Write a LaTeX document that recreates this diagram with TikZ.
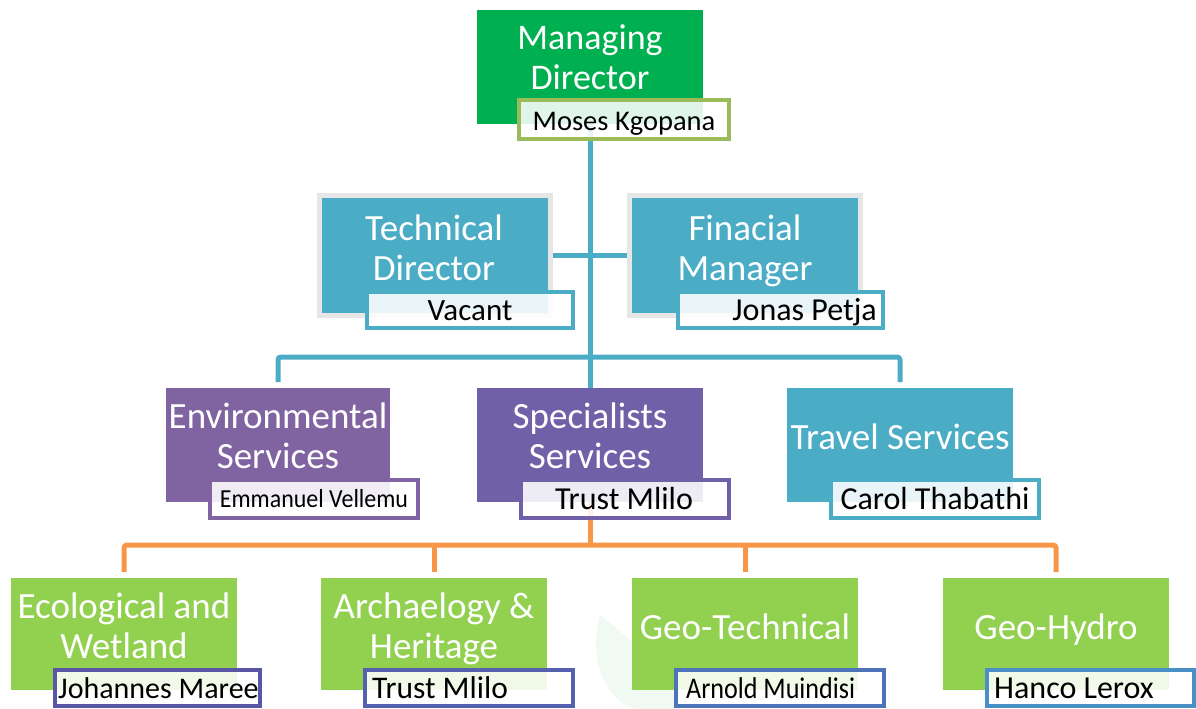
\documentclass[tikz,border=0pt]{standalone}
\usepackage{fontspec}
\setmainfont{Carlito}
\usetikzlibrary{backgrounds}
\definecolor{mdgreen}{HTML}{00B050}
\definecolor{olive}{HTML}{9BBB59}
\definecolor{cblue}{HTML}{4BACC6}
\definecolor{gframe}{HTML}{E6E6E6}
\definecolor{envpur}{HTML}{8064A2}
\definecolor{spspur}{HTML}{7060A8}
\definecolor{lgreen}{HTML}{92D050}
\definecolor{corange}{HTML}{F79646}
\definecolor{nbA}{HTML}{5A56A6}
\definecolor{nbB}{HTML}{5560AE}
\definecolor{nbC}{HTML}{4F73B8}
\definecolor{nbD}{HTML}{4A90C6}
\definecolor{leaf}{HTML}{F0FAF2}
\newcommand{\fsz}[1]{\fontsize{#1}{#1}\selectfont}
\begin{document}
\begin{tikzpicture}[x=1pt,y=-1pt,
  box/.style={anchor=north west, inner sep=0pt, outer sep=0pt, minimum width=226pt, minimum height=114pt},
  title/.style={text=white, font=\fontsize{37}{40}\selectfont, align=center, anchor=base, inner sep=0pt},
  namebox/.style={anchor=north west, fill=white, fill opacity=0.88, line width=4pt, inner sep=0pt, outer sep=0pt, minimum height=36pt},
  nametxt/.style={text=black, anchor=base, inner sep=0pt},
  bline/.style={draw=cblue, line width=5pt},
  oline/.style={draw=corange, line width=5pt, rounded corners=3pt}]
\useasboundingbox (0,0) rectangle (1196,709);
% faint leaf watermark
\fill[leaf] (600,615) .. controls (588,660) and (605,700) .. (635,709) -- (680,709) .. controls (670,680) and (640,645) .. (600,615) -- cycle;
% Managing Director
\node[box, fill=mdgreen] (md) at (477,10) {};
\node[title, font=\fontsize{36}{40}\selectfont] (mdt) at (590,89) {Managing\\Director};
\node[namebox, draw=olive, minimum width=210pt, minimum height=39pt] (mdn) at (519,100) {};
\node[nametxt, font=\fsz{28.5}] (mdnt) at (624,130) {Moses Kgopana};
% Technical Director
\node[box, fill=cblue, draw=gframe, line width=5pt, minimum width=231pt, minimum height=120pt] (td) at (319.5,195.5) {};
\node[title] (tdt) at (434,280) {Technical\\Director};
\node[namebox, draw=cblue, minimum width=206pt] (tdn) at (367,292) {};
\node[nametxt, font=\fsz{31}] (tdnt) at (470,320) {Vacant};
% Finacial Manager
\node[box, fill=cblue, draw=gframe, line width=5pt, minimum width=231pt, minimum height=120pt] (fm) at (629.5,195.5) {};
\node[title] (fmt) at (745,280) {Finacial\\Manager};
\node[namebox, draw=cblue, minimum width=205pt] (fmn) at (678,292) {};
\node[nametxt, anchor=base east, font=\fsz{32}] (fmnt) at (877,320) {Jonas Petja};
% Environmental Services
\node[box, fill=envpur, minimum width=224pt] (env) at (166,388) {};
\node[title] (envt) at (278,468) {Environmental\\Services};
\node[namebox, draw=envpur, minimum width=208pt, minimum height=38pt] (envn) at (210,480) {};
\node[nametxt, font=\fsz{26}] (envnt) at (314,507) {\scalebox{0.92}[1]{Emmanuel Vellemu}};
% Specialists Services
\node[box, fill=spspur] (sps) at (477,388) {};
\node[title] (spst) at (590,468) {Specialists\\Services};
\node[namebox, draw=spspur, minimum width=208pt, minimum height=38pt] (spsn) at (521,480) {};
\node[nametxt, font=\fsz{32}] (spsnt) at (624,509) {Trust Mlilo};
% Travel Services
\node[box, fill=cblue] (trv) at (787,388) {};
\node[title] (trvt) at (900,449) {Travel Services};
\node[namebox, draw=cblue, minimum width=208pt, minimum height=38pt] (trvn) at (831,480) {};
\node[nametxt, font=\fsz{32}] (trvnt) at (935,509) {Carol Thabathi};
% Bottom row
\node[box, fill=lgreen, minimum height=112pt] (eco) at (11,578) {};
\node[title] (ecot) at (124,658) {Ecological and\\Wetland};
\node[namebox, draw=nbA, minimum width=205pt] (econ) at (55,670) {};
\node[nametxt, anchor=base west, font=\fsz{30}] (econt) at (58,698) {Johannes Maree};
\node[box, fill=lgreen, minimum height=112pt] (arc) at (321,578) {};
\node[title] (arct) at (434,658) {Archaelogy \&\\Heritage};
\node[namebox, draw=nbB, minimum width=208pt] (arcn) at (365,670) {};
\node[nametxt, anchor=base west, font=\fsz{31.5}] (arcnt) at (372,698) {Trust Mlilo};
\node[box, fill=lgreen, minimum height=112pt] (geo) at (632,578) {};
\node[title] (geot) at (745,639) {Geo-Technical};
\node[namebox, draw=nbC, minimum width=208pt] (geon) at (676,670) {};
\node[nametxt, anchor=base west, font=\fsz{30}] (geont) at (686,698) {\scalebox{0.87}[1]{Arnold Muindisi}};
\node[box, fill=lgreen, minimum height=112pt] (hyd) at (943,578) {};
\node[title] (hydt) at (1056,639) {Geo-Hydro};
\node[namebox, draw=nbD, minimum width=207pt] (hydn) at (987,670) {};
\node[nametxt, anchor=base west, font=\fsz{32}] (hydnt) at (994,698) {Hanco Lerox};
% connectors
\coordinate (jb) at (590,357);
\coordinate (jo) at (590,545);
\begin{scope}[on background layer]
\draw[bline] (md.south) -- (sps.north);
\draw[bline] (td.east) -- (fm.west);
\draw[bline, rounded corners=3pt, shorten <=6pt, shorten >=6pt] (env.north) |- (jb) -| (trv.north);
\draw[oline] (sps.south) -- (jo);
\draw[oline, shorten <=6pt, shorten >=6pt] (eco.north) |- (jo) -| (hyd.north);
\draw[oline, shorten <=6pt] (arc.north) -- (arc.north |- jo);
\draw[oline, shorten <=6pt] (geo.north) -- (geo.north |- jo);
\end{scope}
\end{tikzpicture}
\end{document}
